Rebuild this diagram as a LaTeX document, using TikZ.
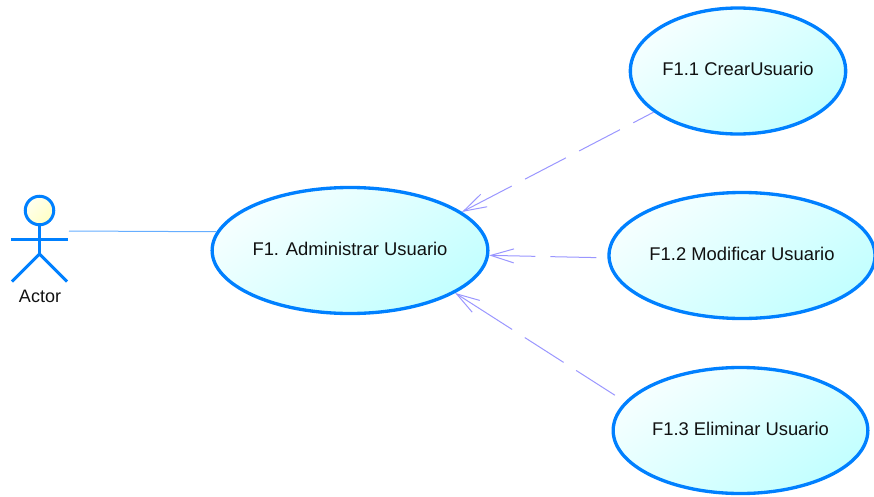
\documentclass[tikz,border=0pt]{standalone}
\usepackage{fontspec}
\setmainfont{Liberation Sans}
\usepackage{xcolor}
\usepackage{tikz}
\usetikzlibrary{shapes.geometric,arrows.meta}
\definecolor{edge}{HTML}{0080FF}
\definecolor{link}{HTML}{66AEFF}
\definecolor{dep}{HTML}{9A96FF}
\definecolor{fillhi}{HTML}{F6FFFF}
\definecolor{filllo}{HTML}{C2FFFF}
\definecolor{headhi}{HTML}{FFFFF0}
\definecolor{headlo}{HTML}{FFFFC4}
\definecolor{ink}{HTML}{111111}
\tikzset{
  usecase/.style={ellipse, draw=edge, line width=2.5pt, top color=fillhi, bottom color=filllo, shading angle=35, inner sep=0pt, minimum height=94.5pt, text=ink, text height=10pt, text depth=3pt, font=\fontsize{13.8}{16}\selectfont},
  figline/.style={draw=edge, line width=2.25pt},
  head/.style={circle, draw=edge, line width=2.25pt, top color=headhi, bottom color=headlo, shading angle=45, minimum size=21.4pt, inner sep=0pt},
  lab/.style={text=ink, font=\fontsize{13.5}{16}\selectfont},
  assoc/.style={draw=link, line width=0.75pt},
  depline/.style={draw=dep, line width=0.75pt, -{Straight Barb[length=17.25pt,width=10.5pt]}},
}

\begin{document}
\begin{tikzpicture}[x=0.75pt,y=-0.75pt]
  \useasboundingbox (0,0) rectangle (874,496);
  % use cases
  \node[usecase, minimum width=203pt] (admin) at (350,250.5) {F1. Administrar Usuario};
  \node[usecase, minimum width=161.5pt] (crear) at (738,71) {F1.1 CrearUsuario};
  \node[usecase, minimum width=199.5pt] (modif) at (742,255.5) {F1.2 Modificar Usuario};
  \node[usecase, minimum width=191pt] (elim) at (740.5,430.5) {F1.3 Eliminar Usuario};
  % actor
  \node[head] (actor) at (39.5,210.5) {};
  \node[lab] (actorlab) at (40,296) {Actor};
  \coordinate (hip) at (39.5,254);
  \coordinate (armL) at (11,239.5);
  \coordinate (armR) at (68,239.5);
  \coordinate (legL) at (12,281.5);
  \coordinate (legR) at (67,281.5);
  \coordinate (linkstart) at (69,231);
  \draw[figline] (actor.south) -- (hip);
  \draw[figline] (armL) -- (armR);
  \draw[figline] (legL) -- (hip) -- (legR);
  % connectors
  \draw[assoc] (linkstart) -- (admin.172.5);
  \draw[depline, dash pattern=on 17.25pt off 11.25pt on 34.5pt off 11.25pt on 34.5pt off 11.25pt on 80pt] (crear.206) -- (admin.19);
  \draw[depline, shorten <=8.25pt, dash pattern=on 34.5pt off 11.25pt on 80pt] (modif.181) -- (admin.-2);
  \draw[depline, shorten <=9pt, dash pattern=on 34.5pt off 11.25pt on 34.5pt off 11.25pt on 80pt] (elim.166) -- (admin.-22);
\end{tikzpicture}
\end{document}
